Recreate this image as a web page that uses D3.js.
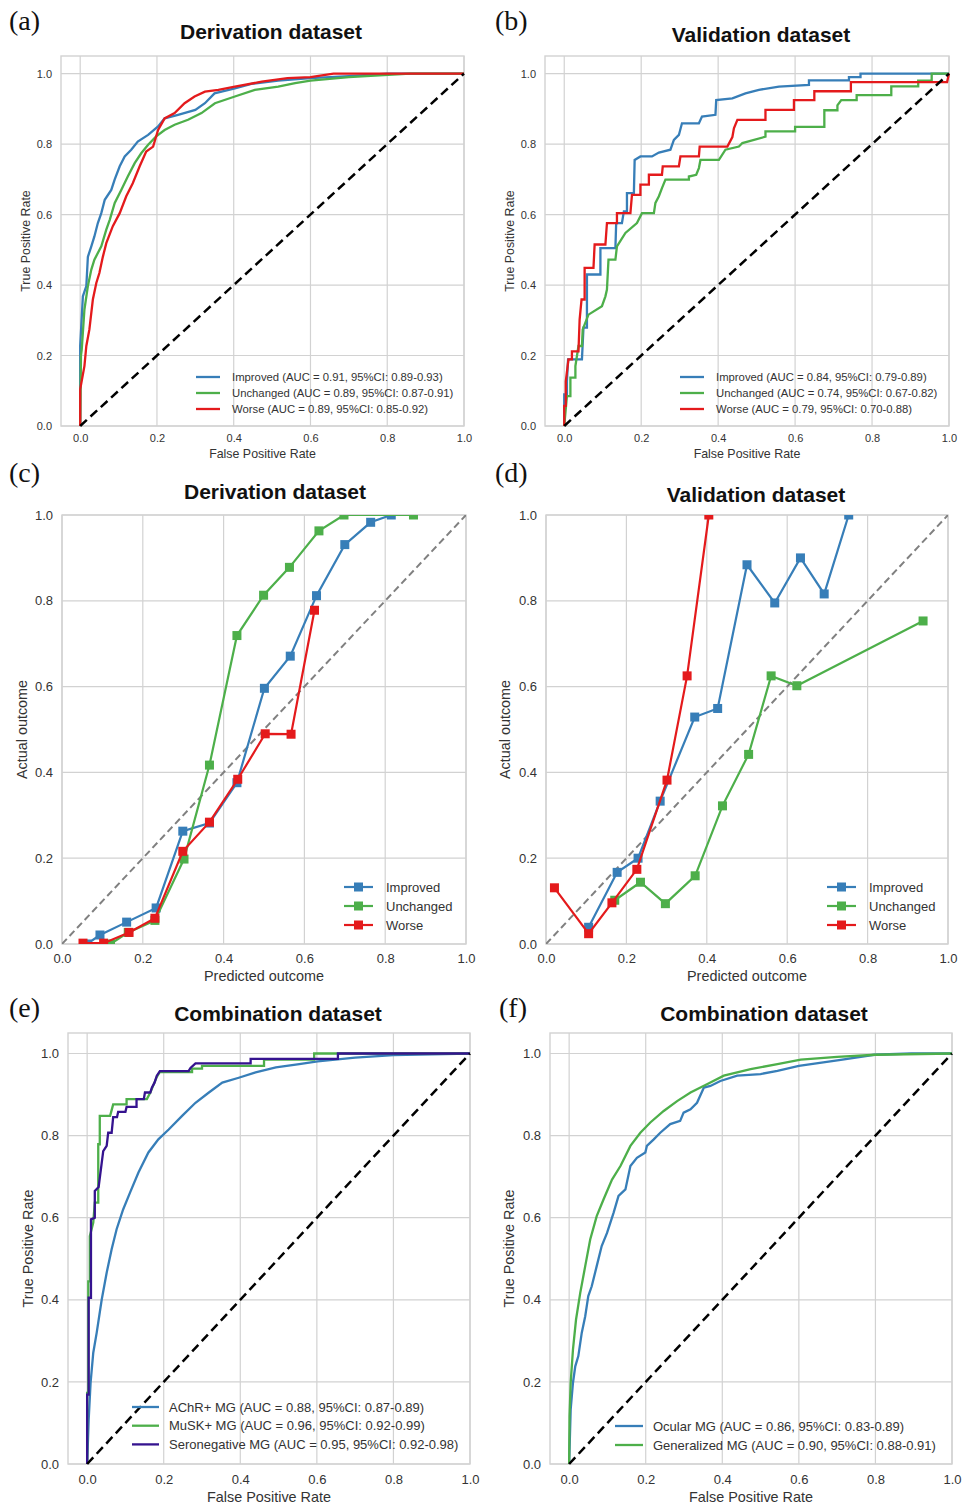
<!DOCTYPE html>
<html>
<head>
<meta charset="utf-8">
<script src="https://cdn.jsdelivr.net/npm/d3@7"></script>
<style>
body{margin:0;background:#fff;}
text{font-family:"Liberation Sans",Arial,sans-serif;}
</style>
</head>
<body>
<script>
// ---- data ----
var tickVals = [0, 0.2, 0.4, 0.6, 0.8, 1.0];

// (a) derivation ROC  [fpr, tpr]
var aImproved = [[0,0],[0,0.227],[0.007,0.368],[0.016,0.397],[0.02,0.48],[0.029,0.51],[0.037,0.538],[0.046,0.576],[0.055,0.604],[0.064,0.642],[0.081,0.67],[0.09,0.70],[0.103,0.737],[0.116,0.765],[0.133,0.784],[0.15,0.807],[0.177,0.826],[0.203,0.85],[0.22,0.873],[0.255,0.883],[0.30,0.897],[0.325,0.916],[0.35,0.944],[0.403,0.958],[0.446,0.971],[0.516,0.98],[0.6,0.987],[0.7,0.993],[0.8,1.0],[1,1]];
var aUnchanged = [[0,0],[0.002,0.2],[0.004,0.217],[0.011,0.33],[0.02,0.397],[0.029,0.444],[0.037,0.472],[0.055,0.51],[0.068,0.557],[0.077,0.585],[0.09,0.633],[0.107,0.67],[0.124,0.708],[0.142,0.746],[0.159,0.774],[0.177,0.798],[0.198,0.822],[0.22,0.84],[0.246,0.855],[0.281,0.869],[0.316,0.888],[0.351,0.916],[0.403,0.935],[0.455,0.954],[0.516,0.963],[0.56,0.973],[0.6,0.98],[0.7,0.99],[0.86,1.0],[1,1]];
var aWorse = [[0,0],[0,0.104],[0.011,0.17],[0.016,0.227],[0.024,0.274],[0.033,0.359],[0.042,0.406],[0.05,0.434],[0.059,0.48],[0.068,0.519],[0.085,0.567],[0.103,0.604],[0.12,0.652],[0.137,0.689],[0.155,0.737],[0.172,0.779],[0.19,0.793],[0.203,0.84],[0.22,0.873],[0.246,0.888],[0.272,0.916],[0.298,0.935],[0.325,0.949],[0.36,0.954],[0.403,0.963],[0.473,0.977],[0.54,0.987],[0.6,0.99],[0.66,1.0],[1,1]];
var aLabels = ["Improved (AUC = 0.91, 95%CI: 0.89-0.93)","Unchanged (AUC = 0.89, 95%CI: 0.87-0.91)","Worse (AUC = 0.89, 95%CI: 0.85-0.92)"];

// (b) validation ROC
var bImproved = [[0,0],[0,0.09],[0.007,0.09],[0.007,0.127],[0.01,0.189],[0.046,0.189],[0.05,0.279],[0.059,0.279],[0.059,0.43],[0.094,0.43],[0.094,0.505],[0.133,0.505],[0.135,0.576],[0.15,0.576],[0.155,0.609],[0.163,0.609],[0.163,0.661],[0.181,0.661],[0.183,0.755],[0.198,0.765],[0.228,0.765],[0.246,0.776],[0.276,0.784],[0.285,0.812],[0.298,0.826],[0.306,0.859],[0.35,0.859],[0.358,0.878],[0.393,0.883],[0.395,0.925],[0.437,0.93],[0.471,0.944],[0.506,0.954],[0.558,0.963],[0.636,0.968],[0.636,0.981],[0.74,0.981],[0.74,0.99],[0.77,0.99],[0.77,1.0],[1,1]];
var bUnchanged = [[0,0],[0.007,0.085],[0.016,0.085],[0.016,0.137],[0.029,0.137],[0.029,0.17],[0.037,0.227],[0.046,0.227],[0.048,0.274],[0.063,0.316],[0.098,0.34],[0.107,0.368],[0.111,0.387],[0.115,0.472],[0.133,0.472],[0.137,0.51],[0.159,0.548],[0.189,0.576],[0.202,0.604],[0.233,0.604],[0.237,0.633],[0.246,0.652],[0.254,0.675],[0.263,0.699],[0.324,0.699],[0.324,0.708],[0.343,0.713],[0.35,0.732],[0.354,0.755],[0.402,0.755],[0.419,0.784],[0.454,0.793],[0.463,0.803],[0.523,0.821],[0.523,0.836],[0.6,0.836],[0.6,0.849],[0.676,0.849],[0.676,0.896],[0.71,0.896],[0.71,0.91],[0.72,0.925],[0.76,0.925],[0.76,0.939],[0.85,0.939],[0.85,0.964],[0.92,0.964],[0.92,0.98],[0.955,0.98],[0.955,1.0],[1,1]];
var bWorse = [[0,0],[0,0.057],[0.004,0.057],[0.004,0.127],[0.011,0.189],[0.02,0.189],[0.02,0.212],[0.037,0.212],[0.04,0.302],[0.045,0.359],[0.053,0.359],[0.053,0.449],[0.076,0.449],[0.079,0.515],[0.107,0.515],[0.111,0.576],[0.137,0.576],[0.137,0.604],[0.172,0.604],[0.176,0.656],[0.198,0.656],[0.198,0.685],[0.22,0.685],[0.22,0.713],[0.254,0.713],[0.256,0.737],[0.298,0.737],[0.302,0.765],[0.35,0.765],[0.352,0.793],[0.424,0.793],[0.437,0.82],[0.441,0.845],[0.45,0.869],[0.523,0.869],[0.523,0.897],[0.597,0.897],[0.597,0.925],[0.65,0.925],[0.65,0.95],[0.745,0.95],[0.745,0.976],[0.995,0.976],[1,1]];
var bLabels = ["Improved (AUC = 0.84, 95%CI: 0.79-0.89)","Unchanged (AUC = 0.74, 95%CI: 0.67-0.82)","Worse (AUC = 0.79, 95%CI: 0.70-0.88)"];

// (c) derivation calibration
var cImprovedPred = [0.062,0.094,0.16,0.233,0.299,0.365,0.433,0.501,0.565,0.63,0.70,0.764,0.815];
var cImprovedObs  = [0.0,0.021,0.051,0.084,0.263,0.282,0.376,0.596,0.671,0.812,0.931,0.983,1.0];
var cUnchangedPred = [0.12,0.164,0.23,0.302,0.365,0.433,0.499,0.563,0.636,0.698,0.87];
var cUnchangedObs  = [0.0,0.027,0.055,0.198,0.417,0.719,0.813,0.878,0.963,1.0,1.0];
var cWorsePred = [0.052,0.103,0.166,0.23,0.299,0.365,0.435,0.503,0.567,0.625];
var cWorseObs  = [0.002,0.002,0.027,0.06,0.216,0.284,0.384,0.49,0.489,0.778];

// (d) validation calibration
var dImprovedPred = [0.106,0.177,0.229,0.284,0.37,0.427,0.50,0.569,0.633,0.692,0.753];
var dImprovedObs  = [0.039,0.167,0.2,0.333,0.529,0.549,0.884,0.795,0.90,0.816,1.0];
var dUnchangedPred = [0.171,0.235,0.297,0.371,0.439,0.504,0.56,0.624,0.938];
var dUnchangedObs  = [0.102,0.144,0.094,0.159,0.322,0.442,0.625,0.602,0.753];
var dWorsePred = [0.021,0.106,0.164,0.226,0.301,0.351,0.405];
var dWorseObs  = [0.131,0.024,0.096,0.174,0.382,0.625,1.0];
var calLabels = ["Improved","Unchanged","Worse"];

// (e) combination ROC by antibody
var eAchr = [[0,0],[0.004,0.108],[0.009,0.198],[0.016,0.271],[0.025,0.32],[0.038,0.40],[0.051,0.466],[0.064,0.523],[0.077,0.572],[0.094,0.62],[0.112,0.661],[0.134,0.71],[0.16,0.759],[0.186,0.791],[0.213,0.815],[0.248,0.848],[0.283,0.88],[0.318,0.905],[0.353,0.929],[0.396,0.941],[0.44,0.954],[0.493,0.966],[0.554,0.974],[0.602,0.981],[0.7,0.99],[0.8,0.996],[1,1]];
var eMusk = [[0,0],[0,0.173],[0.003,0.173],[0.003,0.445],[0.007,0.445],[0.007,0.555],[0.016,0.588],[0.02,0.637],[0.029,0.637],[0.029,0.779],[0.033,0.779],[0.033,0.848],[0.06,0.848],[0.064,0.862],[0.068,0.876],[0.103,0.876],[0.103,0.889],[0.156,0.889],[0.165,0.905],[0.169,0.914],[0.182,0.943],[0.19,0.955],[0.274,0.955],[0.274,0.963],[0.30,0.963],[0.30,0.97],[0.462,0.97],[0.462,0.985],[0.593,0.985],[0.593,1.0],[1,1]];
var eSeroneg = [[0,0],[0,0.169],[0.004,0.169],[0.004,0.405],[0.01,0.405],[0.01,0.596],[0.02,0.6],[0.02,0.665],[0.03,0.675],[0.038,0.733],[0.042,0.762],[0.051,0.775],[0.055,0.807],[0.064,0.807],[0.068,0.845],[0.078,0.845],[0.081,0.858],[0.1,0.858],[0.103,0.87],[0.129,0.87],[0.129,0.889],[0.148,0.889],[0.151,0.905],[0.165,0.905],[0.169,0.917],[0.176,0.929],[0.182,0.946],[0.19,0.957],[0.265,0.957],[0.27,0.965],[0.283,0.976],[0.427,0.976],[0.427,0.987],[0.655,0.987],[0.655,1.0],[1,1]];
var eLabels = ["AChR+ MG (AUC = 0.88, 95%CI: 0.87-0.89)","MuSK+ MG (AUC = 0.96, 95%CI: 0.92-0.99)","Seronegative MG (AUC = 0.95, 95%CI: 0.92-0.98)"];

// (f) combination ROC by type
var fOcular = [[0,0],[0.004,0.133],[0.01,0.198],[0.016,0.238],[0.024,0.263],[0.033,0.32],[0.042,0.36],[0.05,0.409],[0.059,0.433],[0.072,0.482],[0.085,0.531],[0.099,0.563],[0.116,0.612],[0.129,0.653],[0.147,0.669],[0.16,0.726],[0.177,0.746],[0.199,0.759],[0.203,0.775],[0.221,0.791],[0.238,0.807],[0.264,0.828],[0.29,0.836],[0.299,0.856],[0.317,0.864],[0.334,0.88],[0.352,0.917],[0.369,0.921],[0.395,0.933],[0.439,0.946],[0.5,0.95],[0.544,0.958],[0.60,0.97],[0.705,0.984],[0.797,0.997],[0.893,1.0],[1,1]];
var fGeneral = [[0,0],[0.001,0.116],[0.004,0.198],[0.01,0.279],[0.018,0.352],[0.029,0.417],[0.042,0.482],[0.055,0.547],[0.072,0.604],[0.09,0.645],[0.112,0.693],[0.134,0.726],[0.16,0.775],[0.186,0.807],[0.212,0.832],[0.247,0.86],[0.282,0.884],[0.317,0.905],[0.36,0.925],[0.404,0.946],[0.474,0.962],[0.544,0.974],[0.605,0.985],[0.7,0.992],[0.8,0.997],[1,1]];
var fLabels = ["Ocular MG (AUC = 0.86, 95%CI: 0.83-0.89)","Generalized MG (AUC = 0.90, 95%CI: 0.88-0.91)"];

var blue="#377eb8", green="#4daf4a", red="#e41a1c", purple="#35138f";
var gridCol="#d2d2d2", txtCol="#333";

var svg=d3.select("body").append("svg")
	.attr("width",962)
	.attr("height",1505);

var clipN=0;

function panel(p){
	var x=d3.scaleLinear().domain(p.xd).range([p.l,p.r]);
	var y=d3.scaleLinear().domain(p.yd).range([p.b,p.t]);
	var g=svg.append("g");

	g.selectAll(".gx").data(tickVals).enter().append("line")
		.attr("x1",d=>x(d)).attr("x2",d=>x(d))
		.attr("y1",p.t).attr("y2",p.b)
		.attr("stroke",gridCol).attr("stroke-width",1.2);
	g.selectAll(".gy").data(tickVals).enter().append("line")
		.attr("x1",p.l).attr("x2",p.r)
		.attr("y1",d=>y(d)).attr("y2",d=>y(d))
		.attr("stroke",gridCol).attr("stroke-width",1.2);
	g.append("rect")
		.attr("x",p.l).attr("y",p.t)
		.attr("width",p.r-p.l).attr("height",p.b-p.t)
		.attr("fill","none").attr("stroke",gridCol).attr("stroke-width",1.4);

	var xa=g.append("g").attr("transform","translate(0,"+p.b+")")
		.call(d3.axisBottom(x).tickValues(tickVals).tickFormat(d3.format(".1f")).tickSize(0).tickPadding(p.xpad));
	var ya=g.append("g").attr("transform","translate("+p.l+",0)")
		.call(d3.axisLeft(y).tickValues(tickVals).tickFormat(d3.format(".1f")).tickSize(0).tickPadding(9));
	[xa,ya].forEach(function(a){
		a.select(".domain").remove();
		a.selectAll("text").attr("fill",txtCol).style("font-size",p.tick+"px")
			.style("font-family","'Liberation Sans',Arial,sans-serif");
	});

	g.append("text").attr("x",p.tx).attr("y",p.ty)
		.attr("text-anchor","middle").attr("font-weight","bold")
		.style("font-size","21px").attr("fill","#111").text(p.title);
	g.append("text").attr("x",p.px).attr("y",p.py)
		.style("font-family","'Liberation Serif','Times New Roman',serif")
		.style("font-size","28px").attr("fill","#111").text(p.tag);
	g.append("text").attr("x",(p.l+p.r)/2).attr("y",p.xly)
		.attr("text-anchor","middle").style("font-size",p.lab+"px")
		.attr("fill",txtCol).text(p.xl);
	g.append("text")
		.attr("transform","translate("+p.ylx+","+((p.t+p.b)/2)+") rotate(-90)")
		.attr("text-anchor","middle").style("font-size",p.lab+"px")
		.attr("fill",txtCol).text(p.yl);

	var id="clip"+(clipN++);
	svg.append("clipPath").attr("id",id).append("rect")
		.attr("x",p.l).attr("y",p.t).attr("width",p.r-p.l).attr("height",p.b-p.t);
	var plot=g.append("g").attr("clip-path","url(#"+id+")");
	return {x:x,y:y,g:g,plot:plot};
}

function rocPanel(p,series,colors,labels,leg){
	var P=panel(p);
	var line=d3.line().x(d=>P.x(d[0])).y(d=>P.y(d[1]));
	series.forEach(function(s,i){
		P.g.append("path").datum(s).attr("d",line)
			.attr("fill","none").attr("stroke",colors[i]).attr("stroke-width",2.3)
			.attr("stroke-linejoin","miter");
	});
	P.g.append("path").datum([[0,0],[1,1]]).attr("d",line)
		.attr("fill","none").attr("stroke","#000").attr("stroke-width",2.5)
		.attr("stroke-dasharray","9,5");
	labels.forEach(function(t,i){
		var yy=leg.y+i*leg.dy;
		P.g.append("line").attr("x1",leg.x).attr("x2",leg.x+leg.w)
			.attr("y1",yy).attr("y2",yy).attr("stroke",colors[i]).attr("stroke-width",2.3);
		P.g.append("text").attr("x",leg.tx).attr("y",yy).attr("dy","0.35em")
			.style("font-size",leg.fs+"px").attr("fill",txtCol).text(t);
	});
}

function calPanel(p,preds,obs,colors,leg){
	var P=panel(p);
	var line=d3.line().x(d=>P.x(d[0])).y(d=>P.y(d[1]));
	P.plot.append("path").datum([[0,0],[1,1]]).attr("d",line)
		.attr("fill","none").attr("stroke","#808080").attr("stroke-width",2)
		.attr("stroke-dasharray","7,4");
	preds.forEach(function(pr,i){
		var pts=d3.zip(pr,obs[i]);
		P.plot.append("path").datum(pts).attr("d",line)
			.attr("fill","none").attr("stroke",colors[i]).attr("stroke-width",2.2);
		P.plot.selectAll(".m"+i).data(pts).enter().append("rect")
			.attr("x",d=>P.x(d[0])-4.5).attr("y",d=>P.y(d[1])-4.5)
			.attr("width",9).attr("height",9).attr("fill",colors[i]);
	});
	calLabels.forEach(function(t,i){
		var yy=leg.y+i*leg.dy;
		P.g.append("line").attr("x1",leg.x).attr("x2",leg.x+29)
			.attr("y1",yy).attr("y2",yy).attr("stroke",colors[i]).attr("stroke-width",2.2);
		P.g.append("rect").attr("x",leg.x+14.5-4.5).attr("y",yy-4.5)
			.attr("width",9).attr("height",9).attr("fill",colors[i]);
		P.g.append("text").attr("x",leg.tx).attr("y",yy).attr("dy","0.35em")
			.style("font-size","13px").attr("fill",txtCol).text(t);
	});
}

var rocX=[-0.05,1.0], rocY=[0,1.05];

rocPanel({l:61,r:464,t:56,b:426,xd:rocX,yd:rocY,xpad:8,tick:11,lab:12.4,
	tx:271,ty:39,title:"Derivation dataset",px:9,py:30,tag:"(a)",
	xl:"False Positive Rate",xly:458,yl:"True Positive Rate",ylx:30},
	[aImproved,aUnchanged,aWorse],[blue,green,red],aLabels,
	{x:196,w:24,tx:232,y:377,dy:16,fs:11.3});

rocPanel({l:545,r:949,t:56,b:426,xd:rocX,yd:rocY,xpad:8,tick:11,lab:12.4,
	tx:761,ty:42,title:"Validation dataset",px:495,py:30,tag:"(b)",
	xl:"False Positive Rate",xly:458,yl:"True Positive Rate",ylx:514},
	[bImproved,bUnchanged,bWorse],[blue,green,red],bLabels,
	{x:680,w:24,tx:716,y:377,dy:16,fs:11.3});

calPanel({l:62,r:466,t:515,b:944,xd:[0,1],yd:[0,1],xpad:10,tick:13,lab:14.4,
	tx:275,ty:499,title:"Derivation dataset",px:9,py:482,tag:"(c)",
	xl:"Predicted outcome",xly:981,yl:"Actual outcome",ylx:27},
	[cImprovedPred,cUnchangedPred,cWorsePred],[cImprovedObs,cUnchangedObs,cWorseObs],
	[blue,green,red],{x:344,tx:386,y:887,dy:19});

calPanel({l:546,r:948,t:515,b:944,xd:[0,1],yd:[0,1],xpad:10,tick:13,lab:14.4,
	tx:756,ty:502,title:"Validation dataset",px:495,py:482,tag:"(d)",
	xl:"Predicted outcome",xly:981,yl:"Actual outcome",ylx:510},
	[dImprovedPred,dUnchangedPred,dWorsePred],[dImprovedObs,dUnchangedObs,dWorseObs],
	[blue,green,red],{x:827,tx:869,y:887,dy:19});

rocPanel({l:68,r:470,t:1033,b:1464,xd:rocX,yd:rocY,xpad:11,tick:13,lab:14.4,
	tx:278,ty:1021,title:"Combination dataset",px:9,py:1017,tag:"(e)",
	xl:"False Positive Rate",xly:1502,yl:"True Positive Rate",ylx:33},
	[eAchr,eMusk,eSeroneg],[blue,green,purple],eLabels,
	{x:132,w:27,tx:169,y:1407,dy:18.7,fs:13});

rocPanel({l:550,r:952,t:1033,b:1464,xd:rocX,yd:rocY,xpad:11,tick:13,lab:14.4,
	tx:764,ty:1021,title:"Combination dataset",px:499,py:1017,tag:"(f)",
	xl:"False Positive Rate",xly:1502,yl:"True Positive Rate",ylx:514},
	[fOcular,fGeneral],[blue,green],fLabels,
	{x:615,w:28,tx:653,y:1426,dy:19,fs:13});
</script>
</body>
</html>
